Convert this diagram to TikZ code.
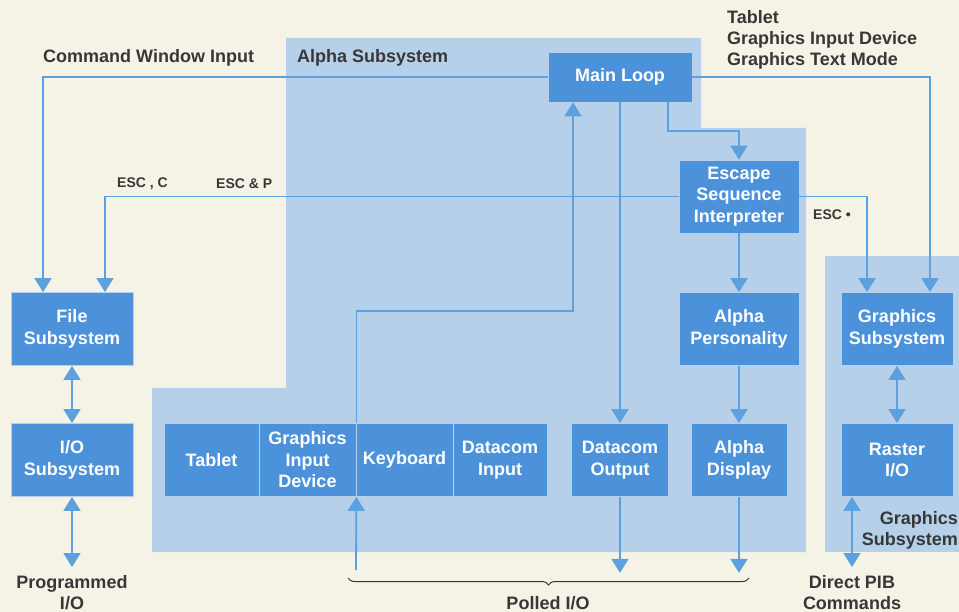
\documentclass[tikz,border=0pt]{standalone}
\usepackage{fontspec}
\setmainfont{Liberation Sans}
\usetikzlibrary{arrows.meta,decorations.pathreplacing}

\definecolor{paper}{RGB}{245,243,229}
\definecolor{paleblue}{RGB}{183,208,234}
\definecolor{boxblue}{RGB}{76,146,218}
\definecolor{lineblue}{RGB}{92,160,222}
\definecolor{inkgray}{RGB}{55,55,55}

\tikzset{
    unit/.style={fill=boxblue,draw=paleblue,line width=0.8pt,text=white,
        font=\fontsize{18}{21.5}\selectfont\bfseries,align=center,inner sep=0pt},
    flow/.style={draw=lineblue,line width=1.8pt,-{Triangle[width=17pt,length=14pt]}},
    twoway/.style={flow,{Triangle[width=17pt,length=14pt]}-{Triangle[width=17pt,length=14pt]}},
    caption/.style={text=inkgray,font=\fontsize{18}{21}\selectfont\bfseries,inner sep=0pt,align=center},
    esccaption/.style={caption,font=\fontsize{14}{16}\selectfont\bfseries}
}

\begin{document}
\begin{tikzpicture}[x=1pt,y=-1pt]
    \pgfmathsetmacro{\picwidth}{959}
    \pgfmathsetmacro{\picheight}{612}
    \pgfmathsetmacro{\boxheight}{73}
    \pgfmathsetmacro{\rowy}{460}
    \fill[paper] (0,0) rectangle (\picwidth,\picheight);
    \useasboundingbox (0,0) rectangle (\picwidth,\picheight);
    % subsystem areas
    \fill[paleblue] (286,38) -- (701,38) -- (701,128) -- (806,128) -- (806,552) -- (152,552) -- (152,388) -- (286,388) -- cycle;
    \fill[paleblue] (825,256) rectangle (\picwidth,552);
    % boxes
    \node[unit,minimum width=144pt,minimum height=50pt] (mainloop) at (620,77) {Main Loop};
    \node[unit,minimum width=120pt,minimum height=\boxheight pt] (escape) at (739,196.5) {Escape\\Sequence\\Interpreter};
    \node[unit,minimum width=120pt,minimum height=\boxheight pt] (alphapers) at (739,329) {Alpha\\Personality};
    \node[unit,minimum width=112pt,minimum height=\boxheight pt] (graphsub) at (897,329) {Graphics\\Subsystem};
    \node[unit,minimum width=112pt,minimum height=\boxheight pt] (raster) at (897,\rowy) {Raster\\I/O};
    \node[unit,minimum width=96pt,minimum height=\boxheight pt] (alphadisp) at (739,\rowy) {Alpha\\Display};
    \node[unit,minimum width=97pt,minimum height=\boxheight pt] (dcout) at (620,\rowy) {Datacom\\Output};
    \node[unit,minimum width=95pt,minimum height=\boxheight pt] (tablet) at (211.5,\rowy) {Tablet};
    \node[unit,minimum width=97pt,minimum height=\boxheight pt] (gid) at (307.5,\rowy) {Graphics\\Input\\Device};
    \node[unit,minimum width=97pt,minimum height=\boxheight pt] (keyboard) at (404.5,\rowy) {Keyboard};
    \node[unit,minimum width=94pt,minimum height=\boxheight pt] (dcin) at (500,\rowy) {Datacom\\Input};
    \node[unit,minimum width=122pt,minimum height=\boxheight pt] (filesub) at (72,329) {File\\Subsystem};
    \node[unit,minimum width=122pt,minimum height=\boxheight pt] (iosub) at (72,\rowy) {I/O\\Subsystem};
    % free ends
    \coordinate (progio) at (72,567);
    \coordinate (pib) at (852,567);
    \coordinate (pollin) at (356,570);
    % connectors
    \draw[flow] (mainloop.west) -| ([xshift=-29pt]filesub.north);
    \draw[flow] (escape.west) -| ([xshift=33pt]filesub.north);
    \draw[flow] (escape.east) -| ([xshift=-30pt]graphsub.north);
    \draw[flow] (mainloop.east) -| ([xshift=33pt]graphsub.north);
    \draw[flow] ([xshift=48pt]mainloop.south) -- ++(0,29) -| (escape.north);
    \draw[flow] (mainloop.south) -- (dcout.north);
    \draw[flow] (dcout.south) -- ++(0,76);
    \draw[flow] (gid.north east) -- ++(0,-112) -| ([xshift=-47pt]mainloop.south);
    \draw[flow] (pollin) -- (gid.south east);
    \draw[flow] (escape.south) -- (alphapers.north);
    \draw[flow] (alphapers.south) -- (alphadisp.north);
    \draw[flow] (alphadisp.south) -- ++(0,76);
    \draw[twoway] (filesub.south) -- (iosub.north);
    \draw[twoway] (iosub.south) -- (progio);
    \draw[twoway] (graphsub.south) -- (raster.north);
    \draw[twoway] (raster.south -| pib) -- (pib);
    \draw[inkgray,line width=1pt,decorate,decoration={brace,amplitude=7pt}] (749,578) -- (348,578);
    % labels
    \node[caption,anchor=west] (cmdlabel) at (43,58) {Command Window Input};
    \node[caption,anchor=west] (alphalabel) at (297,58) {Alpha Subsystem};
    \node[caption,anchor=north west,align=left] (gfxlabel) at (727,10) {Tablet\\Graphics Input Device\\Graphics Text Mode};
    \node[esccaption,anchor=west] (escclabel) at (117,184) {ESC , C};
    \node[esccaption,anchor=west] (escplabel) at (216,184) {ESC \& P};
    \node[esccaption,anchor=west] (escdotlabel) at (813,215) {ESC •};
    \node[caption,anchor=north east,align=right] (gfxsublabel) at (958,511) {Graphics\\Subsystem};
    \node[caption,anchor=south] (proglabel) at (72,610) {Programmed\\I/O};
    \node[caption,anchor=south] (polllabel) at (548,610) {Polled I/O};
    \node[caption,anchor=south] (piblabel) at (852,610) {Direct PIB\\Commands};
\end{tikzpicture}
\end{document}
